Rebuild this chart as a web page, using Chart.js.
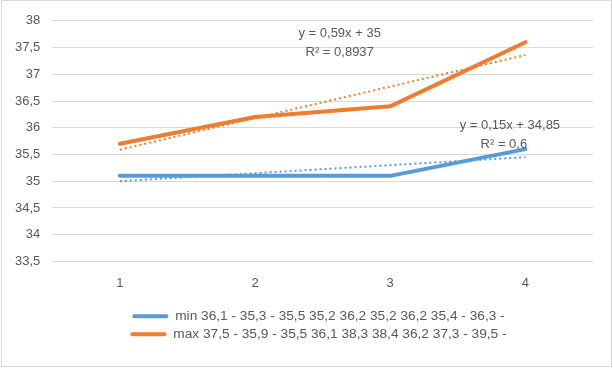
<!DOCTYPE html>
<html lang="pl">
  <head>
    <meta charset="UTF-8" />
    <title>min / max</title>
    <script src="https://cdn.jsdelivr.net/npm/chart.js"></script>
    <style>
      html, body { margin: 0; padding: 0; background: #fff; }
      #ramka {
        position: absolute; left: 1px; top: 0px;
        width: 609px; height: 365px;
        border: 1px solid #d9d9d9; background: #fff;
      }
      #ramka canvas { display: block; }
    </style>
  </head>
  <body>
    <div id="ramka"><canvas id="wykres" width="609" height="365"></canvas></div>
    <script>
      // dane
      var kategorie = ["1", "2", "3", "4"];
      var wartosciMin = [35.1, 35.1, 35.1, 35.6];
      var wartosciMax = [35.7, 36.2, 36.4, 37.6];
      // linie trendu (y = 0,15x + 34,85 oraz y = 0,59x + 35)
      var trendMin = [35.0, 35.15, 35.3, 35.45];
      var trendMax = [35.59, 36.18, 36.77, 37.36];
      var etykietaMin = "min 36,1 - 35,3 - 35,5 35,2 36,2 35,2 36,2 35,4 - 36,3 -";
      var etykietaMax = "max 37,5 - 35,9 - 35,5 36,1 38,3 38,4 36,2 37,3 - 39,5 -";
      var rownanieMin = ["y = 0,15x + 34,85", "R² = 0,6"];
      var rownanieMax = ["y = 0,59x + 35", "R² = 0,8937"];

      var niebieski = "#5b9bd5";
      var pomaranczowy = "#ed7d31";
      var szary = "#595959";
      var czcionka = "'Liberation Sans', Arial, sans-serif";

      // podpisy linii trendu, pozycja w jednostkach osi
      const rownania = {
        id: "rownania",
        afterDatasetsDraw(chart) {
          const ctx = chart.ctx;
          const x = chart.scales.x, y = chart.scales.y;
          ctx.save();
          ctx.font = "13px " + czcionka;
          ctx.fillStyle = szary;
          ctx.textAlign = "center";
          ctx.textBaseline = "middle";
          const podpisz = (linie, xv, yv, dx2) => {
            const px = x.getPixelForValue(xv);
            const py = y.getPixelForValue(yv);
            ctx.fillText(linie[0], px, py);
            ctx.fillText(linie[1], px + dx2, py + 19);
          };
          podpisz(rownanieMax, 1.626, 37.76, 0);
          podpisz(rownanieMin, 2.885, 36.04, -6);
          ctx.restore();
        },
      };

      // legenda wyśrodkowana pod obszarem wykresu, nie pod całym płótnem
      const legendaPodWykresem = {
        id: "legendaPodWykresem",
        afterLayout(chart) {
          chart.legend.left += 41;
        },
      };

      new Chart(document.getElementById("wykres"), {
        type: "line",
        data: {
          labels: kategorie,
          datasets: [
            {
              label: etykietaMin,
              data: wartosciMin,
              borderColor: niebieski,
              backgroundColor: niebieski,
              borderWidth: 4,
              borderCapStyle: "round",
              borderJoinStyle: "round",
              pointRadius: 0,
              tension: 0,
            },
            {
              label: etykietaMax,
              data: wartosciMax,
              borderColor: pomaranczowy,
              backgroundColor: pomaranczowy,
              borderWidth: 4,
              borderCapStyle: "round",
              borderJoinStyle: "round",
              pointRadius: 0,
              tension: 0,
            },
            {
              label: "trend min",
              data: trendMin,
              borderColor: niebieski,
              borderWidth: 2,
              borderDash: [2, 3],
              pointRadius: 0,
              tension: 0,
            },
            {
              label: "trend max",
              data: trendMax,
              borderColor: pomaranczowy,
              borderWidth: 2,
              borderDash: [2, 3],
              pointRadius: 0,
              tension: 0,
            },
          ],
        },
        options: {
          responsive: false,
          animation: false,
          layout: { padding: { top: 12, right: 18, left: 1, bottom: 15 } },
          plugins: {
            tooltip: { enabled: false },
            legend: {
              position: "bottom",
              labels: {
                color: szary,
                font: { family: czcionka, size: 13.7 },
                boxWidth: 36,
                boxHeight: 4,
                padding: 4.3,
                filter: (item) => item.datasetIndex < 2,
                generateLabels: (chart) =>
                  chart.data.datasets.map((ds, i) => ({
                    text: ds.label,
                    fillStyle: ds.borderColor,
                    strokeStyle: ds.borderColor,
                    lineWidth: 0,
                    borderRadius: 2,
                    fontColor: szary,
                    datasetIndex: i,
                  })),
              },
            },
          },
          scales: {
            x: {
              offset: true,
              grid: { display: false, drawTicks: false },
              border: { display: false },
              ticks: {
                color: szary,
                font: { family: czcionka, size: 13 },
                padding: 14,
              },
            },
            y: {
              min: 33.5,
              max: 38,
              grid: { color: "#d9d9d9", lineWidth: 1, drawTicks: false },
              border: { display: false },
              ticks: {
                stepSize: 0.5,
                color: szary,
                font: { family: czcionka, size: 13 },
                padding: 12,
                callback: (v) => String(v).replace(".", ","),
              },
            },
          },
        },
        plugins: [rownania, legendaPodWykresem],
      });
    </script>
  </body>
</html>
